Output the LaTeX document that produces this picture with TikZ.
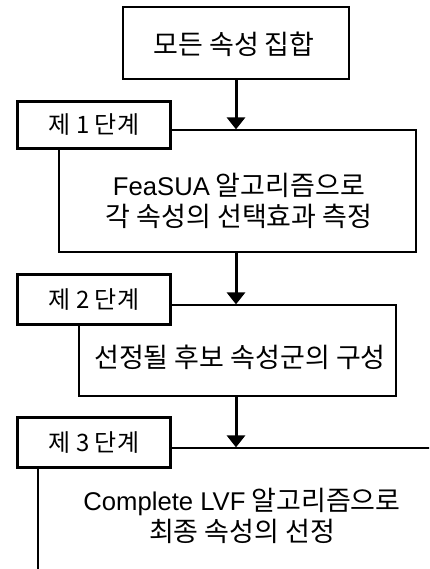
\documentclass[tikz,border=0pt]{standalone}
\usepackage{fontspec}
\setmainfont{Noto Sans CJK KR}
\newfontfamily\lat[Scale=0.95]{Liberation Sans}
\usetikzlibrary{arrows.meta}
\tikzset{
  box/.style={draw, line width=1.2bp, inner sep=0pt},
  stagebox/.style={draw, line width=3.4bp, fill=white, inner sep=0pt,
    minimum width=153bp, font=\fontsize{24bp}{28bp}\selectfont},
  txt/.style={inner sep=0pt, align=center, font=\fontsize{27bp}{31bp}\selectfont},
  flow/.style={line width=3bp, -{Triangle[width=18bp,length=12bp]}}
}
\begin{document}
\begin{tikzpicture}[x=1bp,y=-1bp]
\useasboundingbox (0,0) rectangle (429,569);
\clip (0,0) rectangle (429,569);
% main boxes
\node[box, minimum width=226bp, minimum height=72bp] (top) at (236,43) {};
\node[txt] (toptxt) at (234,44) {모든 속성 집합};
\node[box, minimum width=357bp, minimum height=122bp] (b1) at (237.5,191) {};
\node[txt] (b1txt) at (239,201) {{\lat FeaSUA} 알고리즘으로\\각 속성의 선택효과 측정};
\node[box, minimum width=317bp, minimum height=91bp] (b2) at (237.5,350.5) {};
\node[txt] (b2txt) at (240,357) {선정될 후보 속성군의 구성};
\node[box, minimum width=399bp, minimum height=128bp] (b3) at (237.5,512) {};
\node[txt] (b3txt) at (242,516) {{\lat Complete LVF} 알고리즘으로\\최종 속성의 선정};
% stage labels
\node[stagebox, minimum height=47bp] (s1) at (94,125) {제 1 단계};
\node[stagebox, minimum height=50bp] (s2) at (94,299.5) {제 2 단계};
\node[stagebox, minimum height=50bp] (s3) at (94,442.5) {제 3 단계};
% arrows
\draw[flow] (top.south -| 236,0) -- (236,0 |- b1.north);
\draw[flow] (b1.south -| 236,0) -- (236,0 |- b2.north);
\draw[flow] (b2.south -| 236,0) -- (236,0 |- b3.north);
\end{tikzpicture}
\end{document}
